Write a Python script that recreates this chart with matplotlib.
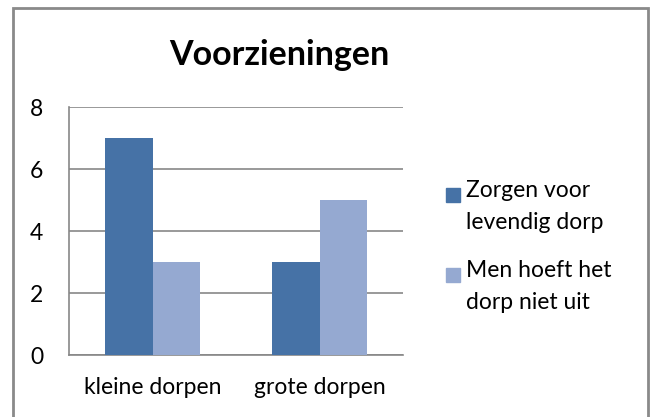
import matplotlib
matplotlib.use("Agg")
import matplotlib.pyplot as plt
from matplotlib.patches import Rectangle
import numpy as np

plt.rcParams['font.family'] = ['Lato', 'DejaVu Sans']

title = "Voorzieningen"
categories = ["kleine dorpen", "grote dorpen"]
series_names = ["Zorgen voor\nlevendig dorp", "Men hoeft het\ndorp niet uit"]
series_values = [[7, 3], [3, 5]]
series_colors = ["#4672A6", "#95A9D1"]
yticks = [0, 2, 4, 6, 8]

W, H = 652, 417
fig = plt.figure(figsize=(W / 100, H / 100), dpi=100)

def fx(px):
    return px / W

def fy(py):
    return 1 - py / H

# outer chart border
fig.patches.append(Rectangle((fx(12.5), fy(430)), fx(635), fy(8) - fy(430),
                             transform=fig.transFigure, fill=False,
                             edgecolor="#8a8a8a", linewidth=2))

ax_l, ax_r, ax_t, ax_b = 69, 403, 107, 355
ax = fig.add_axes([fx(ax_l), fy(ax_b), fx(ax_r - ax_l), fy(ax_t) - fy(ax_b)])

x = np.arange(len(categories))
bw = 0.287
for i, (vals, col) in enumerate(zip(series_values, series_colors)):
    ax.bar(x + (i - 0.5) * bw, vals, width=bw, color=col, zorder=3)

ax.set_xlim(-0.5, len(categories) - 0.5)
ax.set_ylim(0, 8)
ax.set_yticks(yticks)
ax.set_xticks(x)
ax.set_xticklabels(categories)
ax.yaxis.grid(True, color="#878787", linewidth=1.2, zorder=0)
for s in ["top", "right"]:
    ax.spines[s].set_visible(False)
for s in ["left", "bottom"]:
    ax.spines[s].set_color("#878787")
    ax.spines[s].set_linewidth(1.2)
ax.tick_params(axis="both", length=0, labelsize=16.5, colors="#000000")
ax.tick_params(axis="y", pad=18.5)
ax.tick_params(axis="x", pad=16)

fig.text(fx(279), fy(55), title, ha="center", va="center",
         fontsize=24.5, fontweight="bold")

# legend
leg_y = [195, 275]
for name, col, yy in zip(series_names, series_colors, leg_y):
    fig.patches.append(Rectangle((fx(446), fy(yy + 7)), fx(14), fy(yy - 7) - fy(yy + 7),
                                 transform=fig.transFigure, color=col))
    fig.text(fx(466), fy(yy - 15), name, ha="left", va="top",
             fontsize=16.5, linespacing=1.65)

fig.savefig("out.png", dpi=100)
